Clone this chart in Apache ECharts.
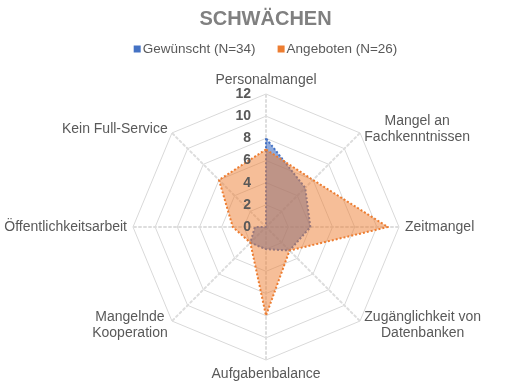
<!DOCTYPE html>
<html>
<head>
<meta charset="utf-8">
<script src="https://cdn.jsdelivr.net/npm/echarts@6/dist/echarts.min.js"></script>
<style>html,body{margin:0;padding:0;background:#fff}#c{width:531px;height:391px}</style>
</head>
<body>
<div id="c"></div>
<script>
// Categories in clockwise order starting at the top
const categories = ['Personalmangel', 'Mangel an\nFachkenntnissen', 'Zeitmangel', 'Zugänglichkeit von\nDatenbanken', 'Aufgabenbalance', 'Mangelnde\nKooperation', 'Öffentlichkeitsarbeit', 'Kein Full-Service'];
const gewuenscht = [8, 5, 4, 3, 2, 2, 1, 0];
const angeboten = [7, 6, 11, 3, 8, 2, 3, 6];
const seriesNames = ['Gewünscht (N=34)', 'Angeboten (N=26)'];
const tickLabels = ['0', '2', '4', '6', '8', '10', '12'];
const axisMax = 12;

// ECharts radar places indicators counter-clockwise; reorder to get clockwise
const order = [0].concat(categories.map((_, i) => i).slice(1).reverse());
const pick = arr => order.map(i => arr[i]);

const chart = echarts.init(document.getElementById('c'), null, {renderer: 'canvas'});
const grey = '#595959';
chart.setOption({
  animation: false,
  title: {
    text: 'SCHWÄCHEN', left: 'center', top: 4,
    textStyle: {fontFamily: 'Liberation Sans', fontSize: 20, fontWeight: 'bold', color: '#808080'}
  },
  legend: {
    top: 37, left: 'center', icon: 'rect', itemWidth: 7, itemHeight: 7, itemGap: 22,
    textStyle: {fontFamily: 'Liberation Sans', fontSize: 13.5, color: grey, padding: [0, 0, 0, -3]},
    data: seriesNames
  },
  grid: {left: 259, width: 1, top: 94, height: 133, z: 10},
  xAxis: {type: 'value', show: false},
  yAxis: {
    type: 'value', min: 0, max: axisMax, interval: 2, z: 10,
    axisLine: {show: false}, axisTick: {show: false}, splitLine: {show: false},
    axisLabel: {margin: 8, fontFamily: 'Liberation Sans', fontSize: 14, fontWeight: 'bold', color: grey,
      formatter: v => tickLabels[v / 2]}
  },
  radar: {
    center: [266, 227], radius: 133, startAngle: 90, splitNumber: 6,
    shape: 'polygon', nameGap: 6,
    indicator: pick(categories).map(n => ({name: n, min: 0, max: axisMax})),
    axisName: {
      fontFamily: 'Liberation Sans', fontSize: 14, color: grey, verticalAlign: 'middle', lineHeight: 16,
      formatter: function (name) {
        if (name === 'Personalmangel') return name + '\n ';
        if (name === 'Aufgabenbalance') return ' \n' + name;
        return name.split('\n').map(s => '{c|' + s + '}').join('\n');
      },
      rich: {c: {align: 'center', fontFamily: 'Liberation Sans', fontSize: 14, color: grey, lineHeight: 16}}
    },
    splitLine: {lineStyle: {color: '#D9D9D9', width: 1}},
    splitArea: {show: false},
    axisLine: {lineStyle: {color: '#DDDDDD', width: 2, type: [2, 3]}},
    axisLabel: {show: false}
  },
  series: [{
    type: 'radar',
    symbol: 'none',
    data: [
      {name: seriesNames[0], value: pick(gewuenscht),
        itemStyle: {color: '#4472C4'},
        lineStyle: {color: '#4472C4', width: 2, type: [2, 2]},
        areaStyle: {color: '#4472C4', opacity: 0.6}},
      {name: seriesNames[1], value: pick(angeboten),
        itemStyle: {color: '#ED7D31'},
        lineStyle: {color: '#ED7D31', width: 2, type: [2, 2]},
        areaStyle: {color: '#ED7D31', opacity: 0.5}}
    ]
  }]
});
</script>
</body>
</html>
